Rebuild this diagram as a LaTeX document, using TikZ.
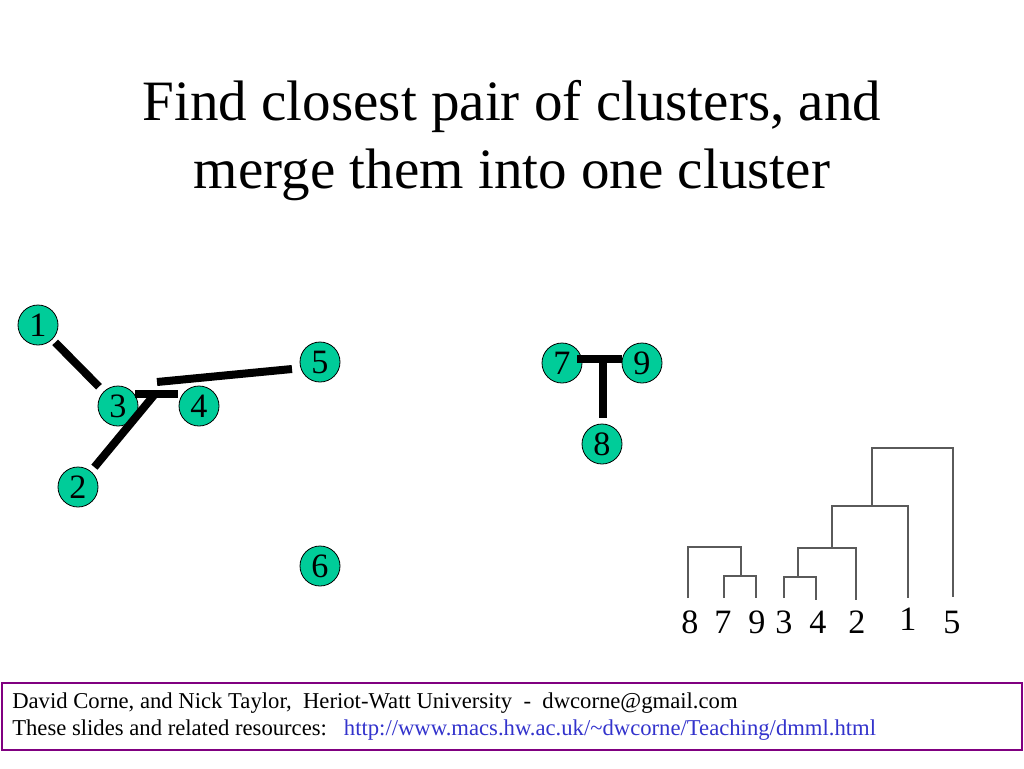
\documentclass[tikz,border=0pt]{standalone}
\usepackage{fontspec}
\setmainfont{Liberation Serif}
\usetikzlibrary{calc}
\definecolor{turq}{HTML}{00CC99}
\definecolor{boxpurple}{HTML}{800080}
\definecolor{urlblue}{HTML}{3333CC}
\definecolor{dendro}{HTML}{5A5A5A}
\tikzset{
  pt/.style={circle,draw=black,line width=0.6pt,fill=turq,minimum size=30pt,inner sep=0pt,font=\fontsize{25.6}{26}\selectfont},
  link/.style={line width=6pt,black},
  dline/.style={line width=1.1pt,dendro},
  leaf/.style={anchor=base,inner sep=0pt,font=\fontsize{25.6}{26}\selectfont},
}
\begin{document}
\begin{tikzpicture}[x=0.75pt,y=-0.75pt]
\useasboundingbox (0,0) rectangle (1024,768);
% title
\node[align=center,font=\fontsize{42.8}{51}\selectfont,anchor=base] (title) at (512,188)
  {Find closest pair of clusters, and\\merge them into one cluster};
% points
\node[pt] (n1) at (38,325) {1};
\node[pt] (n5) at (320,362) {5};
\node[pt] (n3) at (118,406) {3};
\node[pt] (n4) at (199,406) {4};
\node[pt] (n2) at (78,487) {2};
\node[pt] (n6) at (320,566) {6};
\node[pt] (n7) at (562,363) {7};
\node[pt] (n9) at (642,363) {9};
\node[pt] (n8) at (602,444) {8};
% links
\coordinate (j34) at ($(n3)+(37,-12)$);
\coordinate (c5) at ($(n3)+(39,-24)$);
\draw[link,shorten <=3pt,shorten >=5pt] (n1) -- (n3);
\draw[link] ($(n3)+(17,-12)$) -- ($(n4)+(-21,-12)$);
\draw[link,shorten <=4pt] (n2) -- (j34);
\draw[link] (c5) -- ($(n5)+(-28,7)$);
\coordinate (j79) at ($(n7)!0.5!(n9)+(1,-4)$);
\draw[link] ($(n7)+(15,-4)$) -- ($(n9)+(-20,-4)$);
\draw[link] (j79) -- ($(n8)+(1,-26)$);
% dendrogram
\node[leaf] (l8) at (690,633) {8};
\node[leaf] (l7) at (723,633) {7};
\node[leaf] (l9) at (757,633) {9};
\node[leaf] (l3) at (784,633) {3};
\node[leaf] (l4) at (818,633) {4};
\node[leaf] (l2) at (857,633) {2};
\node[leaf] (l1) at (908,630) {1};
\node[leaf] (l5) at (952,633) {5};
\draw[dline] (688,598) -- (688,547) -- (741,547) -- (741,576);
\draw[dline] (724,598) -- (724,576) -- (756,576) -- (756,598);
\draw[dline] (784,598) -- (784,577) -- (816,577) -- (816,600);
\draw[dline] (798,577) -- (798,548) -- (856,548) -- (856,600);
\draw[dline] (832,548) -- (832,506) -- (908,506) -- (908,598);
\draw[dline] (872,506) -- (872,448) -- (953,448) -- (953,597);
% footer
\draw[boxpurple,line width=2pt] (2,683) rectangle (1022,750);
\node[anchor=base west,inner sep=0pt,font=\fontsize{17}{18}\selectfont] (f1) at (12,708)
  {David Corne, and Nick Taylor,\ \ Heriot-Watt University\ \ -\ \ dwcorne@gmail.com};
\node[anchor=base west,inner sep=0pt,font=\fontsize{17}{18}\selectfont] (f2) at (12,735)
  {These slides and related resources:\ \ \ \textcolor{urlblue}{http://www.macs.hw.ac.uk/\char`\~dwcorne/Teaching/dmml.html}};
\end{tikzpicture}
\end{document}
